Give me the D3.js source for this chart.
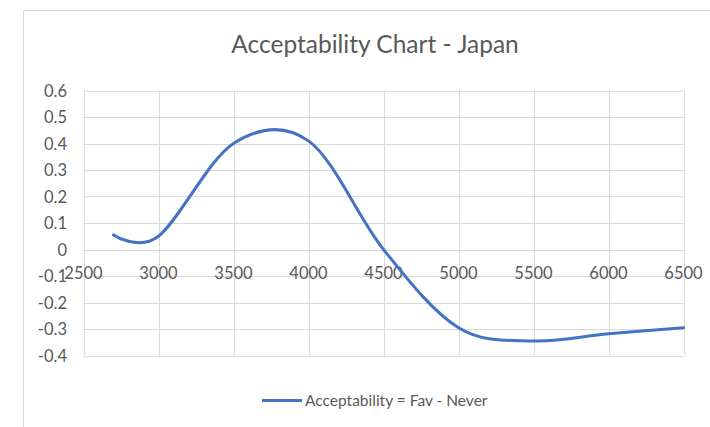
<!DOCTYPE html>
<html>
<head>
<meta charset="utf-8">
<script src="https://cdn.jsdelivr.net/npm/d3@7"></script>
<style>
  html, body { margin: 0; padding: 0; background: #fff; }
  svg { display: block; }
  text { font-family: Lato, "Open Sans", sans-serif; fill: #595959; }
</style>
</head>
<body>
<svg id="chart" width="710" height="427"></svg>
<script>
// Series: acceptability (favourable minus never) against price
const prices = [2700, 3000, 3500, 4000, 4500, 5000, 5500, 6000, 6500];
const acceptability = [0.055, 0.05, 0.40, 0.41, 0.0, -0.295, -0.345, -0.318, -0.295];

const xTicks = [2500, 3000, 3500, 4000, 4500, 5000, 5500, 6000, 6500];
const yTicks = [0.6, 0.5, 0.4, 0.3, 0.2, 0.1, 0, -0.1, -0.2, -0.3, -0.4];

const titleText = "Acceptability Chart - Japan";
const legendText = "Acceptability = Fav - Never";

const svg = d3.select("#chart");
const W = 710, H = 427;
const plot = { left: 83.5, right: 683.5, top: 90.5, bottom: 355.5 };

// Chart frame
svg.append("rect")
  .attr("x", 23.5).attr("y", 10.5)
  .attr("width", W + 20).attr("height", H + 20)
  .attr("fill", "#fff").attr("stroke", "#d9d9d9").attr("stroke-width", 1);

const x = d3.scaleLinear().domain([2500, 6500]).range([plot.left, plot.right]);
const y = d3.scaleLinear().domain([-0.4, 0.6]).range([plot.bottom, plot.top]);

// Gridlines
const grid = svg.append("g").attr("stroke", "#d9d9d9").attr("stroke-width", 1);
grid.selectAll("line.h").data(yTicks).join("line")
  .attr("x1", plot.left).attr("x2", plot.right)
  .attr("y1", d => Math.round(y(d)) + 0.5).attr("y2", d => Math.round(y(d)) + 0.5);
grid.selectAll("line.v").data(xTicks).join("line")
  .attr("y1", plot.top).attr("y2", plot.bottom)
  .attr("x1", d => Math.round(x(d)) + 0.5).attr("x2", d => Math.round(x(d)) + 0.5);

// Y axis labels
const fmt = d => (d === 0 ? "0" : d3.format(".1f")(d).replace("−", "-"));
svg.append("g").selectAll("text").data(yTicks).join("text")
  .attr("x", 67).attr("y", d => y(d) + 6)
  .attr("text-anchor", "end")
  .attr("font-size", 16.5)
  .text(fmt);

// X axis labels (sit just below the zero line)
svg.append("g").selectAll("text").data(xTicks).join("text")
  .attr("x", d => x(d)).attr("y", y(0) + 29)
  .attr("text-anchor", "middle")
  .attr("font-size", 16.5)
  .text(d => String(d));

// Smoothed series line
const line = d3.line()
  .x((d, i) => x(prices[i]))
  .y(d => y(d))
  .curve(d3.curveCatmullRom.alpha(0));
svg.append("path")
  .datum(acceptability)
  .attr("fill", "none")
  .attr("stroke", "#4472c4")
  .attr("stroke-width", 3)
  .attr("stroke-linecap", "round")
  .attr("d", line);

// Title
svg.append("text")
  .attr("x", 375).attr("y", 53)
  .attr("text-anchor", "middle")
  .attr("font-size", 24.5)
  .text(titleText);

// Legend
svg.append("line")
  .attr("x1", 262).attr("x2", 302)
  .attr("y1", 400.5).attr("y2", 400.5)
  .attr("stroke", "#4472c4").attr("stroke-width", 3);
svg.append("text")
  .attr("x", 305).attr("y", 405.5)
  .attr("font-size", 15.5)
  .text(legendText);
</script>
</body>
</html>
